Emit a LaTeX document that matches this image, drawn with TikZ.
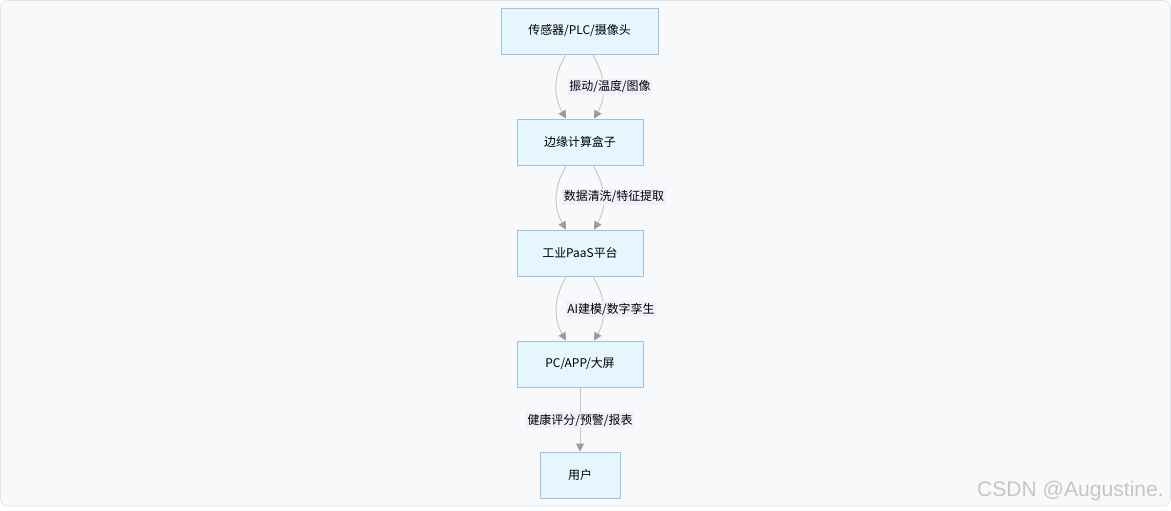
\documentclass[tikz,border=0pt]{standalone}
\usepackage{fontspec}
\setmainfont{Noto Sans CJK SC}
\usetikzlibrary{arrows.meta}
\definecolor{bgfill}{HTML}{F8F9FB}
\definecolor{bgline}{HTML}{E1E4E9}
\definecolor{boxfill}{HTML}{E6F5FE}
\definecolor{boxline}{HTML}{98C2E6}
\definecolor{lblfill}{HTML}{F3EEFC}
\definecolor{flowline}{HTML}{C4C4C4}
\definecolor{tipgray}{HTML}{9C9C9C}
\begin{document}
\begin{tikzpicture}[x=0.02cm,y=-0.02cm,line join=round,font=\fontsize{6.8pt}{8pt}\selectfont,
  box/.style={draw=boxline,fill=boxfill,line width=0.5pt,minimum height=0.92cm,inner sep=0pt},
  lbl/.style={fill=lblfill,inner sep=1pt},
  flow/.style={draw=flowline,line width=0.5pt,-{Triangle[length=4.5pt,width=4.5pt,color=tipgray]}}]
  \useasboundingbox (0,0) rectangle (1171,511);
  \draw[bgline,fill=bgfill,rounded corners=4pt] (0.5,0.5) rectangle (1170.5,506);
  % boxes
  \node[box,minimum width=3.14cm] (sensor) at (579.5,31) {传感器/PLC/摄像头};
  \node[box,minimum width=2.52cm] (edgebox) at (580,142) {边缘计算盒子};
  \node[box,minimum width=2.52cm] (paas) at (580,253) {工业PaaS平台};
  \node[box,minimum width=2.52cm] (screen) at (580,364) {PC/APP/大屏};
  \node[box,minimum width=1.6cm] (user) at (580,475) {用户};
  % double flows
  \foreach \a/\b in {sensor/edgebox,edgebox/paas,paas/screen}{
    \draw[flow] ([xshift=-0.27cm]\a.south) to[out=-122,in=120] ([xshift=-0.28cm]\b.north);
    \draw[flow] ([xshift=0.26cm]\a.south) to[out=-58,in=60] ([xshift=0.28cm]\b.north);
  }
  \draw[flow] (screen) -- (user);
  % labels
  \node[lbl] (l1) at (610,87) {振动/温度/图像};
  \node[lbl] (l2) at (614,197) {数据清洗/特征提取};
  \node[lbl] (l3) at (611,309) {AI建模/数字孪生};
  \node[lbl] (l4) at (580,420) {健康评分/预警/报表};
  \node[text=gray!45,font=\fontspec{Liberation Sans}\fontsize{12pt}{14pt}\selectfont,anchor=east] (mark) at (1170,491) {CSDN @Augustine.};
\end{tikzpicture}
\end{document}
